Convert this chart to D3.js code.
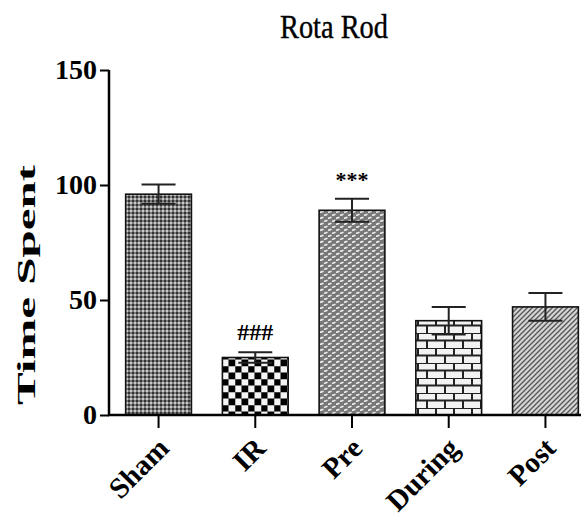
<!DOCTYPE html>
<html>
<head>
<meta charset="utf-8">
<title>Rota Rod</title>
<script src="https://cdnjs.cloudflare.com/ajax/libs/d3/7.8.5/d3.min.js"></script>
<style>
  body { margin: 0; background: #fff; }
  svg { display: block; }
  text { fill: #000; }
</style>
</head>
<body>
<div id="chart"></div>
<script>
// data
var groups = ["Sham", "IR", "Pre", "During", "Post"];
var means = [96, 25, 89, 41, 47];
var sems = [4.2, 2.3, 5, 6, 6];
var marks = ["", "###", "***", "", ""];
var patterns = ["pSham", "pIR", "pPre", "pDuring", "pPost"];
var yTicks = [0, 50, 100, 150];

var width = 581, height = 519;
var serif = "'Liberation Serif', 'Times New Roman', 'DejaVu Serif', serif";

var svg = d3.select("#chart").append("svg")
  .attr("width", width)
  .attr("height", height);

// fill patterns, one per group
var defs = svg.append("defs");

var p = defs.append("pattern").attr("id", "pSham")
  .attr("patternUnits", "userSpaceOnUse").attr("width", 4).attr("height", 4);
p.append("rect").attr("width", 4).attr("height", 4).attr("fill", "#7a7a7a");
p.append("rect").attr("width", 2).attr("height", 2).attr("fill", "#333");
p.append("rect").attr("x", 2).attr("y", 2).attr("width", 2).attr("height", 2).attr("fill", "#c8c8c8");

p = defs.append("pattern").attr("id", "pIR")
  .attr("patternUnits", "userSpaceOnUse").attr("width", 13).attr("height", 13)
  .attr("x", 1).attr("y", 2);
p.append("rect").attr("width", 13).attr("height", 13).attr("fill", "#f4f4f4");
p.append("rect").attr("width", 6.5).attr("height", 6.5).attr("fill", "#000");
p.append("rect").attr("x", 6.5).attr("y", 6.5).attr("width", 6.5).attr("height", 6.5).attr("fill", "#000");
p.append("path").attr("d", "M0,0H13M0,6.5H13M0,0V13M6.5,0V13")
  .attr("stroke", "#777").attr("stroke-width", 1);

p = defs.append("pattern").attr("id", "pPre")
  .attr("patternUnits", "userSpaceOnUse").attr("width", 8).attr("height", 6);
p.append("rect").attr("width", 8).attr("height", 6).attr("fill", "#777");
p.append("path").attr("d", "M0,2.5L3.5,1.2M4,5.5L7.5,4.2")
  .attr("stroke", "#eee").attr("stroke-width", 1.7);

p = defs.append("pattern").attr("id", "pDuring")
  .attr("patternUnits", "userSpaceOnUse").attr("width", 18).attr("height", 15)
  .attr("x", 0).attr("y", 3);
p.append("rect").attr("width", 18).attr("height", 15).attr("fill", "#f2f2f2");
p.append("path").attr("d", "M0,0H18M0,7.5H18M4,0V7.5M13,7.5V15")
  .attr("stroke", "#222").attr("stroke-width", 2);

p = defs.append("pattern").attr("id", "pPost")
  .attr("patternUnits", "userSpaceOnUse").attr("width", 5).attr("height", 5);
p.append("rect").attr("width", 5).attr("height", 5).attr("fill", "#d4d4d4");
p.append("path").attr("d", "M-1,1L1,-1M0,5L5,0M4,6L6,4")
  .attr("stroke", "#555").attr("stroke-width", 1.3);

// scales
var x = d3.scaleBand().domain(groups).range([110, 594])
  .paddingInner(0.32).paddingOuter(0.162);
var y = d3.scaleLinear().domain([0, 150]).range([415, 70]);

// bars
svg.selectAll(".bar").data(groups).enter().append("rect")
  .attr("class", "bar")
  .attr("x", function(d) { return x(d); })
  .attr("y", function(d, i) { return y(means[i]); })
  .attr("width", x.bandwidth())
  .attr("height", function(d, i) { return y(0) - y(means[i]); })
  .attr("fill", function(d, i) { return "url(#" + patterns[i] + ")"; })
  .attr("stroke", "#111")
  .attr("stroke-width", 1.6);

// error bars
var cap = 17;
var eb = svg.selectAll(".err").data(groups).enter().append("g").attr("class", "err")
  .attr("stroke", "#222").attr("stroke-width", 2);
eb.append("line")
  .attr("x1", function(d) { return x(d) + x.bandwidth() / 2; })
  .attr("x2", function(d) { return x(d) + x.bandwidth() / 2; })
  .attr("y1", function(d, i) { return y(means[i] - sems[i]); })
  .attr("y2", function(d, i) { return y(means[i] + sems[i]); });
eb.append("line")
  .attr("x1", function(d) { return x(d) + x.bandwidth() / 2 - cap; })
  .attr("x2", function(d) { return x(d) + x.bandwidth() / 2 + cap; })
  .attr("y1", function(d, i) { return y(means[i] + sems[i]); })
  .attr("y2", function(d, i) { return y(means[i] + sems[i]); });
eb.append("line")
  .attr("x1", function(d) { return x(d) + x.bandwidth() / 2 - cap; })
  .attr("x2", function(d) { return x(d) + x.bandwidth() / 2 + cap; })
  .attr("y1", function(d, i) { return y(means[i] - sems[i]); })
  .attr("y2", function(d, i) { return y(means[i] - sems[i]); });

// significance marks
svg.selectAll(".mark").data(groups).enter().append("text")
  .attr("class", "mark")
  .attr("x", function(d) { return x(d) + x.bandwidth() / 2; })
  .attr("y", function(d, i) { return y(means[i] + sems[i]) - 12; })
  .attr("text-anchor", "middle")
  .style("font-family", serif)
  .style("font-size", function(d, i) { return marks[i] === "###" ? "24px" : "22px"; })
  .style("font-weight", "bold")
  .text(function(d, i) { return marks[i]; });

// y axis
var yAxis = svg.append("g").attr("transform", "translate(109,0)")
  .call(d3.axisLeft(y).tickValues(yTicks).tickSize(9).tickPadding(3));
yAxis.select(".domain").attr("stroke-width", 2.5).attr("d", "M0," + y(150) + "V" + y(0));
yAxis.selectAll(".tick line").attr("stroke-width", 2);
yAxis.selectAll(".tick text")
  .style("font-family", serif)
  .style("font-size", "28px")
  .style("font-weight", "bold");

// x axis
var xAxis = svg.append("g").attr("transform", "translate(0," + y(0) + ")")
  .call(d3.axisBottom(x).tickSize(13).tickFormat(""));
xAxis.select(".domain").attr("stroke-width", 2.5).attr("d", "M108,0H" + width);
xAxis.selectAll(".tick line").attr("stroke-width", 2);

svg.selectAll(".xlab").data(groups).enter().append("text")
  .attr("class", "xlab")
  .attr("transform", function(d) {
    return "translate(" + (x(d) + x.bandwidth() / 2 + 12) + "," + (y(0) + 35) + ") rotate(-45)";
  })
  .attr("text-anchor", "end")
  .style("font-family", serif)
  .style("font-size", "29px")
  .style("font-weight", "bold")
  .text(function(d) { return d; });

// titles
svg.append("text")
  .attr("x", 334).attr("y", 38)
  .attr("text-anchor", "middle")
  .attr("textLength", 108).attr("lengthAdjust", "spacingAndGlyphs")
  .style("font-family", serif)
  .style("font-size", "33px")
  .style("stroke", "#000").style("stroke-width", 0.4)
  .text("Rota Rod");

svg.append("text")
  .attr("transform", "translate(35,285) rotate(-90)")
  .attr("text-anchor", "middle")
  .attr("textLength", 240).attr("lengthAdjust", "spacingAndGlyphs")
  .style("font-family", serif)
  .style("font-size", "26px")
  .style("font-weight", "bold")
  .text("Time Spent");
</script>
</body>
</html>
